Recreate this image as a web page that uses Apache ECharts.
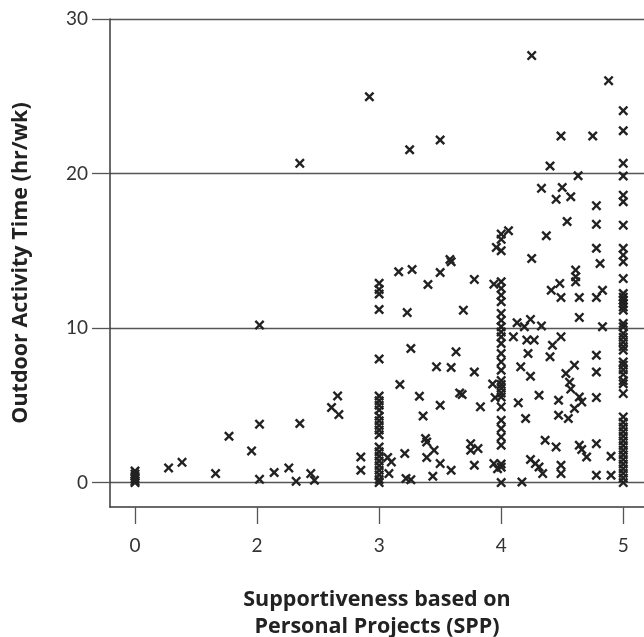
<!DOCTYPE html>
<html>
<head>
<meta charset="utf-8">
<script src="https://cdn.jsdelivr.net/npm/echarts@6/dist/echarts.min.js"></script>
<style>
html,body{margin:0;padding:0;background:#fff;}
#chart{width:644px;height:637px;}
</style>
</head>
<body>
<div id="chart"></div>
<script>
// Tick labels on the x axis (axis is broken between 0 and 2)
var xTickValues = [0, 2, 3, 4, 5];
var yTickValues = [0, 10, 20, 30];

// Points stacked on whole-number SPP values (Outdoor hr/wk)
var col0Y = [0.75, 0.55, 0.4, 0.25, 0.1, 0];
var col3Y = [12.9, 12.5, 12.2, 11.2, 8.0, 5.6, 5.3, 5.0, 4.7, 4.3, 4.0, 3.7, 3.4, 3.1, 2.3, 2.0, 1.7, 1.4, 1.1, 0.8, 0.5, 0.2, 0.0];
var col4Y = [16.08, 15.74, 15.0, 13.0, 12.57, 12.13, 11.7, 10.95, 10.5, 10.08, 9.75, 9.43, 9.0, 8.35, 7.81, 7.27, 6.6, 6.35, 6.1, 5.8, 5.54, 4.9, 4.03, 3.5, 2.95, 2.42, 1.2, 1.0, 0];
var col5Y = [24.07, 22.77, 20.66, 19.84, 18.6, 18.17, 16.66, 15.16, 14.72, 14.29, 13.2, 12.24, 12.0, 11.8, 11.6, 11.37, 11.16, 10.3, 10.08, 9.65, 9.4, 9.1, 8.8, 8.57, 7.81, 7.6, 7.3, 7.0, 6.6, 6.4, 5.76, 4.25, 3.9, 3.6, 3.3, 3.0, 2.7, 2.4, 2.1, 1.8, 1.5, 1.2, 0.9, 0.6, 0.3, 0.0];

// Other points [SPP, hr/wk]
var lowSpp = [[0.55,0.95],[0.77,1.31],[1.32,0.58],[1.54,3.0],[1.91,2.05],[2.02,3.78],[2.02,0.21],[2.02,10.19],[2.14,0.65],[2.26,0.95],[2.32,0.08],[2.35,3.82],[2.44,0.58],[2.47,0.15],[2.35,20.66],[2.66,5.61],[2.61,4.86],[2.67,4.4],[2.85,1.66],[2.85,0.8],[2.92,24.97]];
var midSpp = [[3.07,1.62],[3.10,1.34],[3.08,0.58],[3.17,6.35],[3.21,1.88],[3.22,0.26],[3.16,13.64],[3.23,11.0],[3.26,8.68],[3.25,21.54],[3.50,22.17],[3.58,14.44],[3.27,13.79],[3.40,12.82],[3.50,13.6],[3.59,14.29],[3.78,13.15],[3.94,12.84],[3.69,11.16],[3.63,8.46],[3.47,7.49],[3.59,7.45],[3.78,7.16],[3.33,5.59],[3.50,5.0],[3.36,4.31],[3.66,5.8],[3.68,5.7],[3.83,4.9],[3.93,6.38],[3.95,5.5],[3.38,2.85],[3.39,2.63],[3.45,2.09],[3.39,1.62],[3.50,1.23],[3.59,0.8],[3.44,0.41],[3.26,0.19],[3.75,2.52],[3.75,2.09],[3.81,2.2],[3.78,1.12],[3.94,1.23],[3.97,0.9],[3.96,15.22],[4.06,16.3]];
var highSpp = [[4.25,27.63],[4.33,19.04],[4.45,18.33],[4.50,19.1],[4.54,16.9],[4.37,15.97],[4.25,14.5],[4.49,22.43],[4.40,20.49],[4.63,19.86],[4.57,18.5],[4.75,22.43],[4.78,17.92],[4.78,16.71],[4.78,15.16],[4.88,26.01],[4.81,14.18],[4.61,13.75],[4.61,13.32],[4.61,12.99],[4.64,11.98],[4.78,11.98],[4.83,12.45],[4.64,10.69],[4.83,10.08],[4.78,8.24],[4.78,7.16],[4.78,5.5],[4.60,7.6],[4.53,7.06],[4.56,6.5],[4.57,6.05],[4.64,5.54],[4.66,5.22],[4.60,4.79],[4.55,4.15],[4.64,2.42],[4.66,2.14],[4.70,1.66],[4.78,2.52],[4.78,0.47],[4.90,1.7],[4.90,0.47],[4.41,12.45],[4.48,12.89],[4.49,11.98],[4.13,10.34],[4.24,10.56],[4.19,10.08],[4.33,10.14],[4.10,9.43],[4.21,9.22],[4.27,9.22],[4.42,8.89],[4.49,9.43],[4.22,8.35],[4.40,8.14],[4.16,7.49],[4.24,6.88],[4.31,5.65],[4.14,5.16],[4.47,5.33],[4.47,4.36],[4.20,4.15],[4.36,2.74],[4.45,2.31],[4.24,1.49],[4.28,1.23],[4.31,1.01],[4.34,0.58],[4.49,1.12],[4.49,0.58],[4.17,0.04]];

// Broken axis: 0..2 is drawn in the space of one unit
function toAxis(v) { return v < 2 ? 1 + v / 2 : v; }
function fromAxis(u) { return u < 2 ? 2 * (u - 1) : u; }

var pts = [];
col0Y.forEach(function (y) { pts.push([0, y]); });
col3Y.forEach(function (y) { pts.push([3, y]); });
col4Y.forEach(function (y) { pts.push([4, y]); });
col5Y.forEach(function (y) { pts.push([5, y]); });
lowSpp.concat(midSpp, highSpp).forEach(function (p) { pts.push(p); });
var data = pts.map(function (p) { return [toAxis(p[0]), p[1]]; });

var crossPath = 'path://M0,1.7L1.7,0L5,3.3L8.3,0L10,1.7L6.7,5L10,8.3L8.3,10L5,6.7L1.7,10L0,8.3L3.3,5Z';
var lineColor = '#3a3a3a';
var font = 'Lato, "Open Sans", sans-serif';
var titleFont = '"Open Sans", Lato, sans-serif';

var chart = echarts.init(document.getElementById('chart'), null, {renderer: 'canvas'});
chart.setOption({
  animation: false,
  backgroundColor: '#ffffff',
  grid: {left: 110, right: 0, top: 19, bottom: 130, outerBoundsMode: 'none', containLabel: false},
  xAxis: {
    type: 'value',
    min: 0.795,
    max: 5.17,
    name: 'Supportiveness based on\nPersonal Projects (SPP)',
    nameLocation: 'middle',
    nameGap: 79,
    nameTextStyle: {fontFamily: titleFont, fontWeight: 'bold', fontSize: 21.5, color: '#222', lineHeight: 27},
    axisLine: {show: true, onZero: false, lineStyle: {color: lineColor, width: 1.5}},
    axisTick: {show: true, length: 17, customValues: xTickValues.map(toAxis), lineStyle: {color: '#555', width: 1.3}},
    axisLabel: {customValues: xTickValues.map(toAxis), margin: 29, fontFamily: font, fontSize: 19, color: '#333',
      formatter: function (u) { return String(Math.round(fromAxis(u))); }},
    splitLine: {show: false}
  },
  yAxis: {
    type: 'value',
    min: -1.58,
    max: 30,
    name: 'Outdoor Activity Time (hr/wk)',
    nameLocation: 'middle',
    nameGap: 78,
    nameTextStyle: {fontFamily: titleFont, fontWeight: 'bold', fontSize: 21.5, color: '#222'},
    axisLine: {show: true, lineStyle: {color: lineColor, width: 1.5}},
    axisTick: {show: true, length: 18, customValues: yTickValues, lineStyle: {color: '#555', width: 1.3}},
    axisLabel: {customValues: yTickValues, margin: 22, fontFamily: font, fontSize: 19, color: '#333'},
    splitLine: {show: true, lineStyle: {color: '#555', width: 1.3}}
  },
  series: [{
    type: 'scatter',
    data: data,
    symbol: crossPath,
    symbolSize: 10,
    itemStyle: {color: '#222', opacity: 1},
    clip: false
  }]
});
</script>
</body>
</html>
